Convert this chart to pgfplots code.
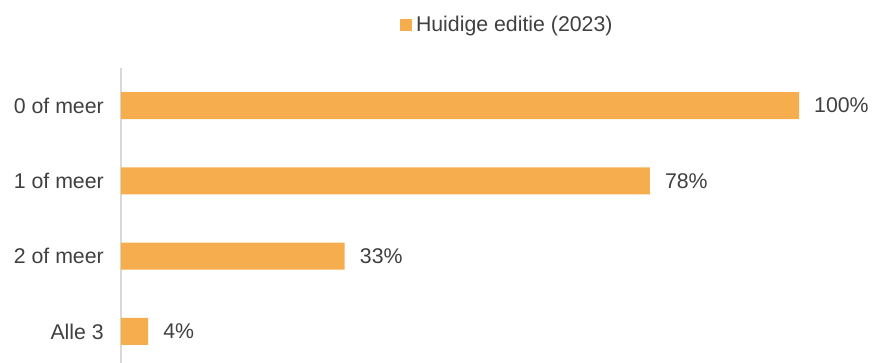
\documentclass[border=0pt]{standalone}
\usepackage{pgfplots}
\pgfplotsset{compat=1.18}
\usepackage{fontspec}
\setmainfont{Liberation Sans}
\definecolor{barc}{HTML}{F5AD4E}
\definecolor{txt}{HTML}{404040}
\definecolor{axc}{HTML}{D9D9D9}
\begin{document}
\begin{tikzpicture}
\useasboundingbox (-121bp,0bp) rectangle (753bp,363bp);
\begin{axis}[
  at={(0,0)}, anchor=south west,
  scale only axis,
  width=678bp, height=295bp,
  xbar,
  xmin=0, xmax=100,
  ymin=-0.42, ymax=3.5,
  bar width=27bp,
  clip=false,
  font=\fontsize{21.3bp}{25bp}\selectfont,
  axis x line=none,
  axis y line=left,
  axis line style={-, draw=axc, line width=1.3bp},
  ytick={0,1,2,3},
  yticklabels={Alle 3,2 of meer,1 of meer,0 of meer},
  major tick length=0pt,
  y tick label style={text=txt, inner sep=0pt, anchor=east, xshift=-17bp},
  /pgf/number format/assume math mode=true,
  nodes near coords={\pgfmathprintnumber{\pgfplotspointmeta}\%},
  point meta=x,
  nodes near coords style={text=txt, anchor=west, inner sep=0pt, xshift=15bp},
  legend style={at={(rel axis cs:0.569,1.146)}, anchor=center, draw=none, fill=none,
    text=txt, font=\fontsize{21.3bp}{25bp}\selectfont,
    /tikz/every node/.append style={inner sep=1bp}},
  legend image code/.code={\fill[barc] (0bp,-6bp) rectangle (12bp,6bp); \path (15bp,0bp);},
]
\addplot[fill=barc, draw=none] coordinates {(4,0) (33,1) (78,2) (100,3)};
\legend{Huidige editie (2023)}
\end{axis}
\end{tikzpicture}
\end{document}
